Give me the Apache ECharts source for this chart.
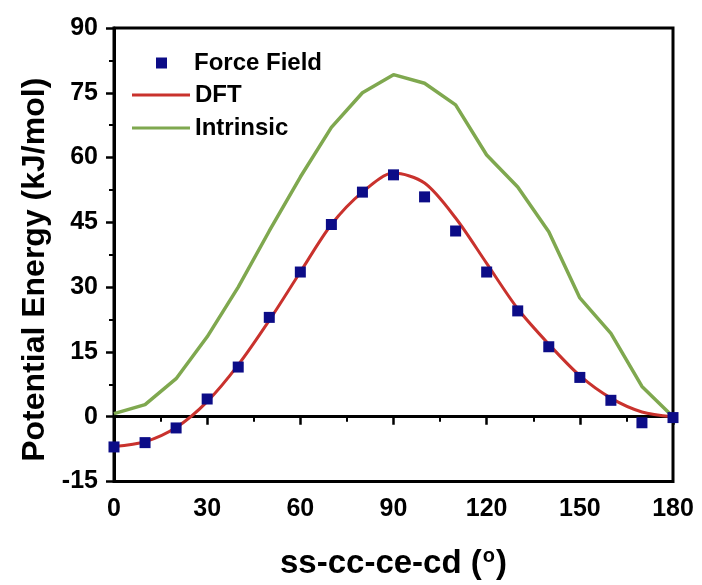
<!DOCTYPE html>
<html>
<head>
<meta charset="utf-8">
<script src="https://cdn.jsdelivr.net/npm/echarts@6/dist/echarts.min.js"></script>
<style>
  html, body { margin: 0; padding: 0; background: #fff; }
  #chart { width: 702px; height: 585px; }
</style>
</head>
<body>
<div id="chart"></div>
<script>
// dihedral angle (deg)
const angles = [0, 10, 20, 30, 40, 50, 60, 70, 80, 90, 100, 110, 120, 130, 140, 150, 160, 170, 180];
const forceField = [-7, -6, -2.6, 4.1, 11.5, 23, 33.5, 44.5, 52, 56, 50.9, 43, 33.5, 24.5, 16.2, 9.1, 3.8, -1.4, -0.2];
const dft = [-6.9, -5.8, -2.5, 3.5, 12, 22.3, 33.5, 44.5, 52, 56.4, 54.1, 46, 35.5, 25, 16.8, 9.5, 4.3, 1.1, 0];
const intrinsic = [0.7, 2.8, 8.8, 18.5, 30, 43, 55.5, 67, 75, 79.2, 77.2, 72.2, 60.6, 53.2, 42.8, 27.5, 19.3, 7, 0];

const pairs = arr => angles.map((a, i) => [a, arr[i]]);

const chart = echarts.init(document.getElementById('chart'));

const font = 'Liberation Sans, Arial, sans-serif';
const legendText = { fontFamily: font, fontWeight: 'bold', fontSize: 24, lineHeight: 24, color: '#000' };

let option = {
  animation: false,
  backgroundColor: '#fff',
  grid: {
    left: 114, right: 29, top: 28, bottom: 103,
    show: true, borderColor: '#000', borderWidth: 3
  },
  legend: [
    {
      data: [{ name: 'Force Field', icon: 'rect' }],
      left: 151, top: 46,
      itemWidth: 11, itemHeight: 11,
      textStyle: Object.assign({}, legendText, { padding: [0, 0, 0, 22] })
    },
    {
      data: [{ name: 'DFT', icon: 'rect' }, { name: 'Intrinsic', icon: 'rect' }],
      orient: 'vertical',
      left: 127, top: 78,
      itemWidth: 58, itemHeight: 3, itemGap: 9,
      textStyle: legendText
    }
  ],
  xAxis: {
    type: 'value',
    min: 0, max: 180, interval: 30,
    name: 'ss-cc-ce-cd ({sup|o})',
    nameLocation: 'middle',
    nameGap: 65,
    nameTextStyle: {
      fontFamily: font, fontWeight: 'bold', fontSize: 33, color: '#000',
      rich: { sup: { fontFamily: font, fontWeight: 'bold', fontSize: 20, color: '#000', verticalAlign: 'top', padding: [0, 1, 14, 1] } }
    },
    axisLine: { lineStyle: { color: '#000', width: 3 } },
    axisTick: { length: 8, lineStyle: { width: 2.5, color: '#000' } },
    minorTick: { show: true, splitNumber: 2, length: 5, lineStyle: { width: 2, color: '#000' } },
    axisLabel: { fontFamily: font, fontWeight: 'bold', fontSize: 25, color: '#000', margin: 15 },
    splitLine: { show: false }
  },
  yAxis: {
    type: 'value',
    min: -15, max: 90, interval: 15,
    name: 'Potential Energy (kJ/mol)',
    nameLocation: 'middle',
    nameGap: 49,
    nameTextStyle: { fontFamily: font, fontWeight: 'bold', fontSize: 32, color: '#000', padding: [0, 30, 0, 0] },
    axisLine: { lineStyle: { color: '#000', width: 3 } },
    axisTick: { length: 8, lineStyle: { width: 2.5, color: '#000' } },
    minorTick: { show: true, splitNumber: 2, length: 5, lineStyle: { width: 2, color: '#000' } },
    axisLabel: { fontFamily: font, fontWeight: 'bold', fontSize: 25, color: '#000', margin: 16 },
    splitLine: { show: false }
  },
  series: [
    {
      name: 'Intrinsic',
      type: 'line',
      data: pairs(intrinsic),
      symbol: 'none',
      color: '#7fa84f',
      lineStyle: { width: 3.5, color: '#7fa84f' },
      z: 2
    },
    {
      name: 'DFT',
      type: 'line',
      data: pairs(dft),
      symbol: 'none',
      smooth: 0.3,
      color: '#c9322d',
      lineStyle: { width: 3, color: '#c9322d' },
      z: 3
    },
    {
      name: 'Force Field',
      type: 'scatter',
      data: pairs(forceField),
      symbol: 'rect',
      symbolSize: 11,
      color: '#0c0c87',
      itemStyle: { color: '#0c0c87', opacity: 1 },
      emphasis: { disabled: true },
      z: 4
    }
  ]
};

chart.setOption(option);
</script>
</body>
</html>
